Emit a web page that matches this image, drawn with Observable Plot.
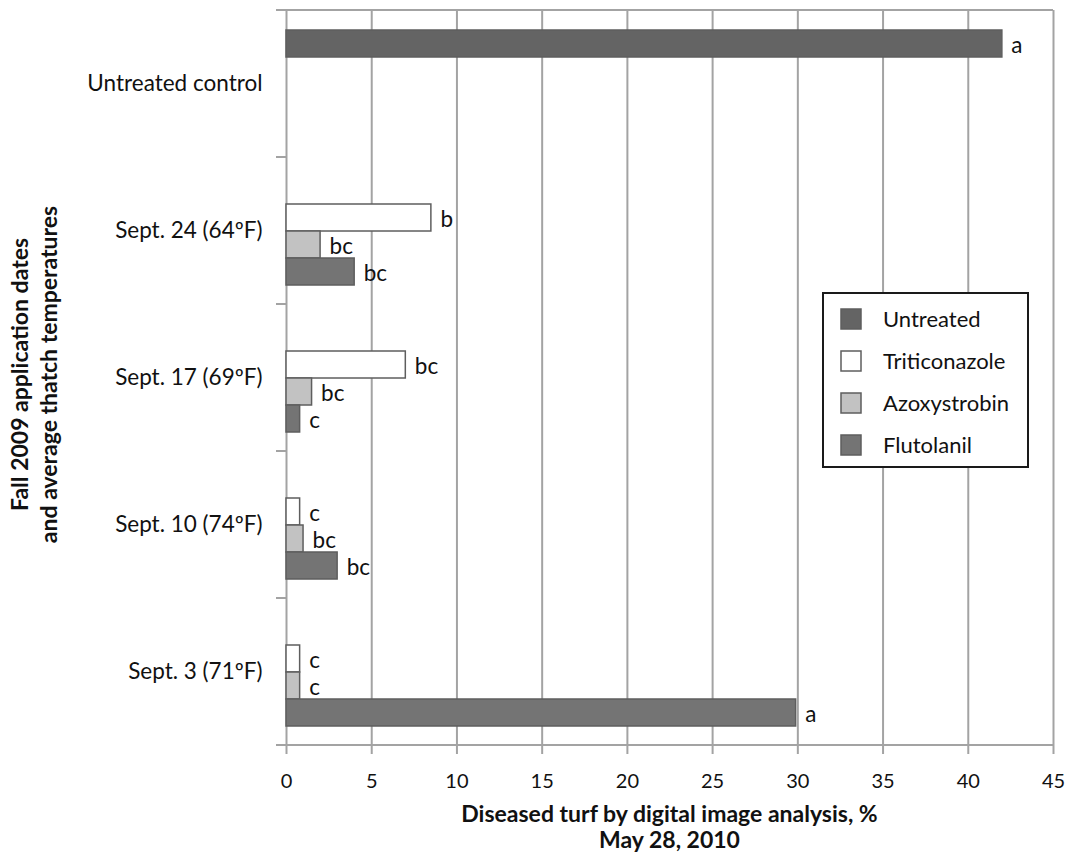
<!DOCTYPE html>
<html><head><meta charset="utf-8">
<script src="https://cdn.jsdelivr.net/npm/d3@7"></script>
<script src="https://cdn.jsdelivr.net/npm/@observablehq/plot@0.6"></script>
<style>
body{margin:0;background:#fff;}
#chart{width:1070px;height:861px;}
</style></head><body><div id="chart"></div>
<script>
const categories = ["Untreated control","Sept. 24 (64ºF)","Sept. 17 (69ºF)","Sept. 10 (74ºF)","Sept. 3 (71ºF)"];
const series = ["Untreated","Triticonazole","Azoxystrobin","Flutolanil"];
const fills = ["#646464","#ffffff","#c2c2c2","#747474"];
const untreated     = [42,   null, null, null, null];
const triticonazole = [null, 8.5,  7.0,  0.8,  0.8];
const azoxystrobin  = [null, 2.0,  1.5,  1.0,  0.8];
const flutolanil    = [null, 4.0,  0.8,  3.0,  29.9];
const untreatedLetters     = ["a", null, null, null, null];
const triticonazoleLetters = [null, "b", "bc", "c", "c"];
const azoxystrobinLetters  = [null, "bc", "bc", "bc", "c"];
const flutolanilLetters    = [null, "bc", "c", "bc", "a"];
const xTicks = [0,5,10,15,20,25,30,35,40,45];
const xTitle = ["Diseased turf by digital image analysis, %","May 28, 2010"];
const yTitle = ["Fall 2009 application dates","and average thatch temperatures"];

const valueSets = [untreated, triticonazole, azoxystrobin, flutolanil];
const letterSets = [untreatedLetters, triticonazoleLetters, azoxystrobinLetters, flutolanilLetters];
const rows = [];
series.forEach((s, si) => {
  categories.forEach((c, ci) => {
    const v = valueSets[si][ci];
    if (v != null) rows.push({category: c, series: s, value: v, letter: letterSets[si][ci]});
  });
});

const font = 'Lato, "Open Sans", sans-serif';
const plot = Plot.plot({
  width: 1070, height: 861,
  marginTop: 10, marginBottom: 116, marginLeft: 286, marginRight: 17,
  style: {fontFamily: font, fontSize: "20px", color: "#111", background: "#fff"},
  x: {domain: [0, 45], ticks: xTicks, label: null},
  y: {domain: series, paddingInner: 0, paddingOuter: 0.72, axis: null},
  fy: {domain: categories, padding: 0, label: null},
  color: {domain: series, range: fills},
  marks: [
    Plot.gridX(xTicks, {stroke: "#a3a3a3", strokeOpacity: 1, strokeWidth: 2}),
    Plot.barX(rows, {x: "value", y: "series", fy: "category", fill: "series", stroke: "#5e5e5e", strokeWidth: 1.5}),
    Plot.text(rows, {x: "value", y: "series", fy: "category", text: "letter", textAnchor: "start", dx: 9, dy: 2, fontSize: 22.5, fill: "#111"}),
    Plot.axisX(xTicks, {tickSize: 9, stroke: "#a3a3a3", strokeWidth: 2, tickPadding: 19, fontSize: 20, fill: "#111", label: null}),
    Plot.axisFy({anchor: "left", tickSize: 0, tickPadding: 24, fontSize: 22.5, fill: "#111", label: null})
  ]
});
document.getElementById("chart").appendChild(plot);

const svg = d3.select(plot);
const fy = plot.scale("fy"), x = plot.scale("x"), color = plot.scale("color");
const x0 = x.apply(0), x1 = x.apply(45);
const bounds = categories.map(c => fy.apply(c));
bounds.push(fy.apply(categories[categories.length - 1]) + fy.bandwidth);
const g = svg.append("g").attr("stroke", "#a3a3a3").attr("stroke-width", 2);
bounds.forEach(b => g.append("line").attr("x1", x0 - 10).attr("x2", x0).attr("y1", b).attr("y2", b));
g.append("line").attr("x1", x0).attr("x2", x1).attr("y1", bounds[0]).attr("y2", bounds[0]);
g.append("line").attr("x1", x0).attr("x2", x1).attr("y1", bounds[bounds.length-1]).attr("y2", bounds[bounds.length-1]);

// axis titles
const cx = (x0 + x1) / 2;
const bottom = bounds[bounds.length-1];
const xt = svg.append("text").attr("text-anchor", "middle").attr("font-family", font)
  .attr("font-weight", "bold").attr("font-size", 23).attr("fill", "#111");
xTitle.forEach((t, i) => xt.append("tspan").attr("x", cx).attr("y", bottom + 77 + i * 25.5).text(t));
const cy = (bounds[0] + bottom) / 2 - 3;
const yt = svg.append("text").attr("text-anchor", "middle").attr("font-family", font)
  .attr("font-weight", "bold").attr("font-size", 23).attr("fill", "#111")
  .attr("transform", `translate(20,${cy}) rotate(-90)`);
yTitle.forEach((t, i) => yt.append("tspan").attr("x", 0).attr("y", i * 29).attr("dy", "0.35em").text(t));

// legend
const lg = svg.append("g").attr("transform", "translate(823,293)");
lg.append("rect").attr("width", 205).attr("height", 174).attr("fill", "#fff").attr("stroke", "#1a1a1a").attr("stroke-width", 2);
color.domain.forEach((s, i) => {
  const yy = 26 + i * 42;
  lg.append("rect").attr("x", 18).attr("y", yy - 10).attr("width", 20).attr("height", 20)
    .attr("fill", color.apply(s)).attr("stroke", "#5e5e5e").attr("stroke-width", 1.5);
  lg.append("text").attr("x", 60).attr("y", yy).attr("dy", "0.35em").attr("text-anchor", "start")
    .attr("font-family", font).attr("font-size", 22).attr("fill", "#111").text(s);
});
</script></body></html>
